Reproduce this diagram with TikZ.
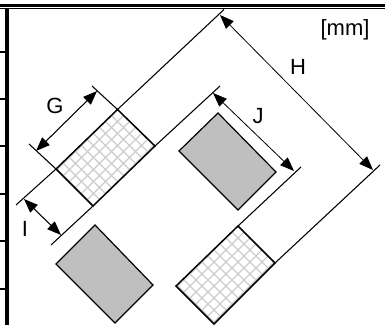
\documentclass[tikz,border=0pt]{standalone}
\usepackage{fontspec}
\setmainfont{Liberation Sans}
\usetikzlibrary{arrows.meta,calc}
\tikzset{
  padline/.style={line width=0.9pt,line join=miter},
  hatchedge/.style={line width=1.1pt,line join=miter},
  extline/.style={line width=0.8pt},
  dimline/.style={line width=0.8pt,{Triangle[length=10.5pt,width=8pt]}-{Triangle[length=10.5pt,width=8pt]}},
  thindim/.style={dimline,line width=0.6pt},
  hatchline/.style={line width=0.9pt,black!20},
  lbl/.style={font=\fontsize{16.5}{19}\selectfont,inner sep=0pt},
}
\newcommand{\hatchpad}[4]{%
  \begin{scope}
    \clip (#1) -- (#2) -- (#3) -- (#4) -- cycle;
    \foreach \k in {-40,...,40} {
      \draw[hatchline] ($(#1)+(\k*6,\k*6)+(-100,100)$) -- ++(200,-200);
      \draw[hatchline] ($(#1)+(\k*6,-\k*6)+(-100,-100)$) -- ++(200,200);
    }
  \end{scope}
  \draw[hatchedge] (#1) -- (#2) -- (#3) -- (#4) -- cycle;
}
\begin{document}
\begin{tikzpicture}[x=0.75pt,y=-0.75pt]
    \useasboundingbox (0,0) rectangle (385,325);
    % frame of the table
    \draw[line width=2pt] (0,5.6) -- (385,5.6);
    \draw[line width=1pt] (0,8.6) -- (385,8.6);
    \draw[line width=2.8pt] (7.2,8) -- (7.2,325);
    \foreach \y in {52,99,146,194,241,289}
        \draw[line width=1pt] (0,\y) -- (6,\y);
    % pads
    \coordinate (a1) at (117.5,109.5);
    \coordinate (a2) at (155,146);
    \coordinate (a3) at (93,206);
    \coordinate (a4) at (56,169);
    \coordinate (b1) at (218,113);
    \coordinate (b2) at (276,172);
    \coordinate (b3) at (238,210);
    \coordinate (b4) at (179,151);
    \coordinate (c1) at (95,225);
    \coordinate (c2) at (153,285);
    \coordinate (c3) at (115,323);
    \coordinate (c4) at (56,264);
    \coordinate (d1) at (238,226);
    \coordinate (d2) at (275,263);
    \coordinate (d3) at (214,324);
    \coordinate (d4) at (176,286);
    \hatchpad{a1}{a2}{a3}{a4}
    \hatchpad{d1}{d2}{d3}{d4}
    \draw[padline,fill=black!25] (b1) -- (b2) -- (b3) -- (b4) -- cycle;
    \draw[padline,fill=black!25] (c1) -- (c2) -- (c3) -- (c4) -- cycle;
    % extension lines
    \coordinate (gtop) at (92,86);
    \coordinate (glow) at (29,144);
    \coordinate (htop) at (224,9.5);
    \coordinate (hlow) at (380,165);
    \coordinate (itop) at (16,205);
    \coordinate (ilow) at (51,245);
    \coordinate (jtop) at (220,86);
    \coordinate (jlow) at (301,167);
    \draw[extline] (gtop) -- (a1) -- (htop);
    \draw[extline] (glow) -- (a4) -- (itop);
    \draw[extline] (ilow) -- (a3);
    \draw[extline] (a2) -- (jtop);
    \draw[extline] (d1) -- (jlow);
    \draw[extline] (d2) -- (hlow);
    % dimensions
    \coordinate (g1) at (36,151);
    \coordinate (g2) at (97,91);
    \coordinate (h1) at (220,15);
    \coordinate (h2) at (373,170);
    \coordinate (i1) at (24,199);
    \coordinate (i2) at (61,235);
    \coordinate (j1) at (213,93);
    \coordinate (j2) at (294,171);
    \draw[dimline] (g1) -- (g2);
    \draw[thindim] (h1) -- (h2);
    \draw[dimline] (i1) -- (i2);
    \draw[thindim] (j1) -- (j2);
    % labels
    \node[lbl] (lblg) at (55,106) {G};
    \node[lbl] (lblh) at (298,67) {H};
    \node[lbl] (lbli) at (25,229) {I};
    \node[lbl] (lblj) at (258,116) {J};
    \node[lbl] (lblmm) at (345,30) {[mm]};
\end{tikzpicture}
\end{document}
